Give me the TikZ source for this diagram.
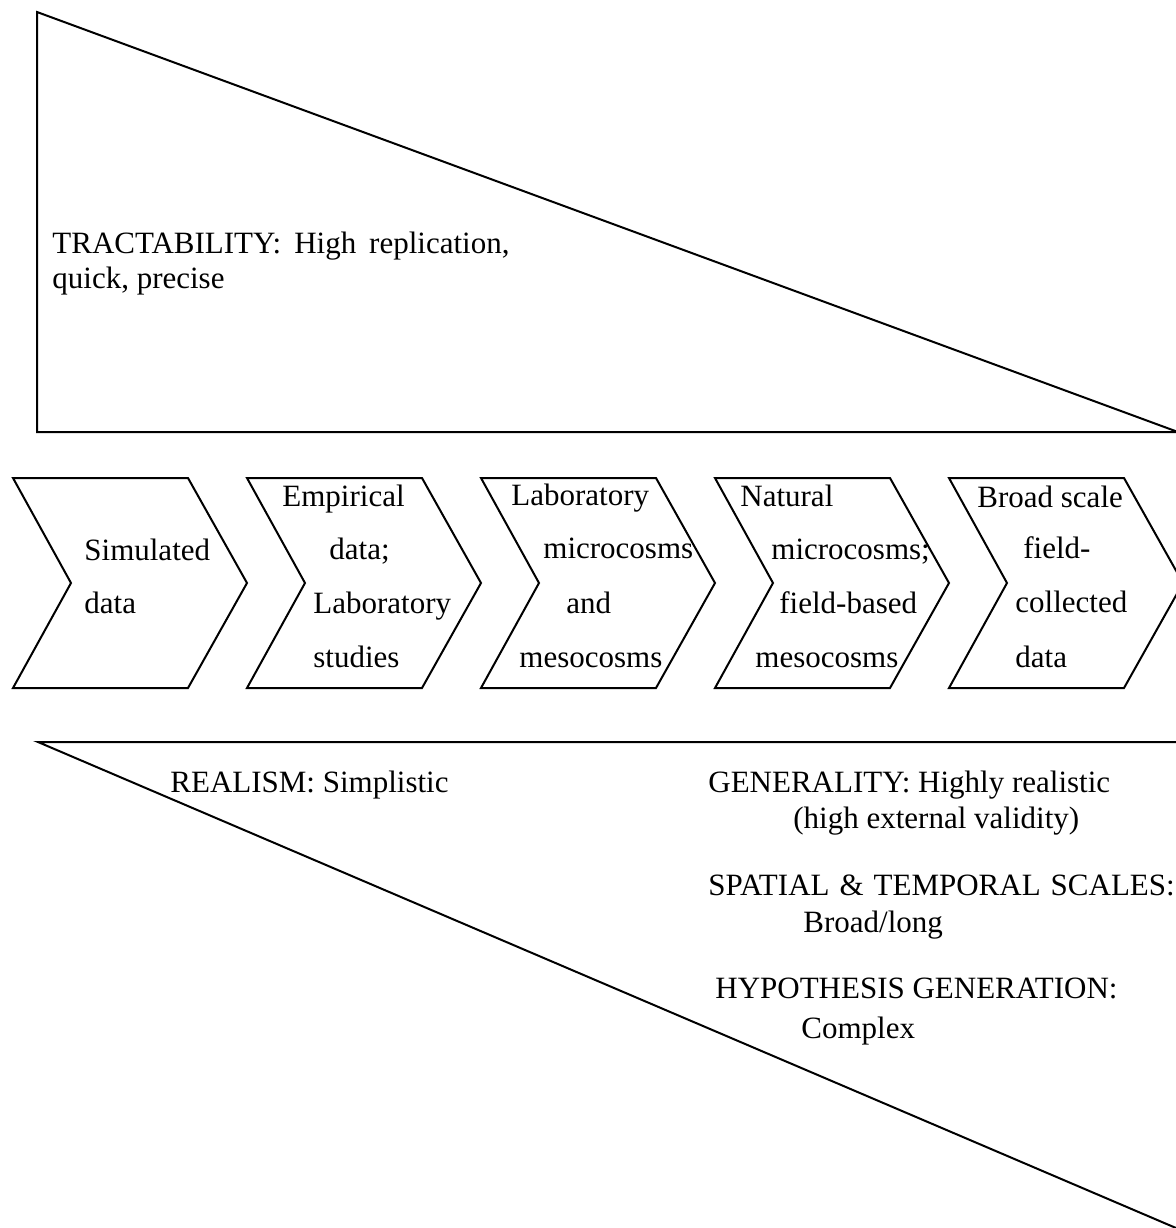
\documentclass[tikz,border=0pt]{standalone}
\usepackage{fontspec}
\setmainfont{Liberation Serif}
\tikzset{
  outline/.style={draw, line width=1pt, line join=miter},
  lbl/.style={anchor=base west, inner sep=0pt, font=\fontsize{15.5}{18}\selectfont}
}

\begin{document}
\begin{tikzpicture}[x=0.5pt, y=-0.5pt]
\useasboundingbox (0,0) rectangle (1176,1228);
% upper wedge
\draw[outline] (37,12) -- (37,432) -- (1178,432) -- cycle;
% lower wedge
\draw[outline] (38,742) -- (1180,742) -- (1180,1229.7) -- cycle;
% chevrons
\foreach \i in {0,...,4}
  \draw[outline] ({13+234*\i},478) -- ++(175,0) -- ++(59,105) -- ++(-59,105)
    -- ++(-175,0) -- ++(58,-105) -- cycle;
% labels
\foreach \n/\x/\y/\t in {
    tract1/52/253/{TRACTABILITY:\hspace{6.5pt}High\hspace{6.5pt}replication,}, tract2/52/288/{quick, precise},
    sim1/84/560/Simulated, sim2/84/613/data,
    emp1/282/506/Empirical, emp2/329/559/data;, emp3/313/613/Laboratory, emp4/313/667/studies,
    lab1/511/505/Laboratory, lab2/543/558/microcosms, lab3/566/613/and, lab4/519/667/mesocosms,
    nat1/740/506/Natural, nat2/771/559/microcosms;, nat3/779/613/field-based, nat4/755/667/mesocosms,
    brd1/977/507/{Broad scale}, brd2/1023/558/field-, brd3/1015/612/collected, brd4/1015/667/data,
    real/170/792/{REALISM: Simplistic},
    gen1/708/792/{GENERALITY: Highly realistic}, gen2/793/828/{(high external validity)},
    scal1/708/895/{SPATIAL\hspace{5pt}\&\hspace{5pt}TEMPORAL\hspace{5pt}SCALES:}, scal2/803/932/{Broad/long},
    hyp1/715/998/{HYPOTHESIS GENERATION:}, hyp2/801/1038/Complex}
  \node[lbl] (\n) at (\x,\y) {\t};
\end{tikzpicture}
\end{document}
